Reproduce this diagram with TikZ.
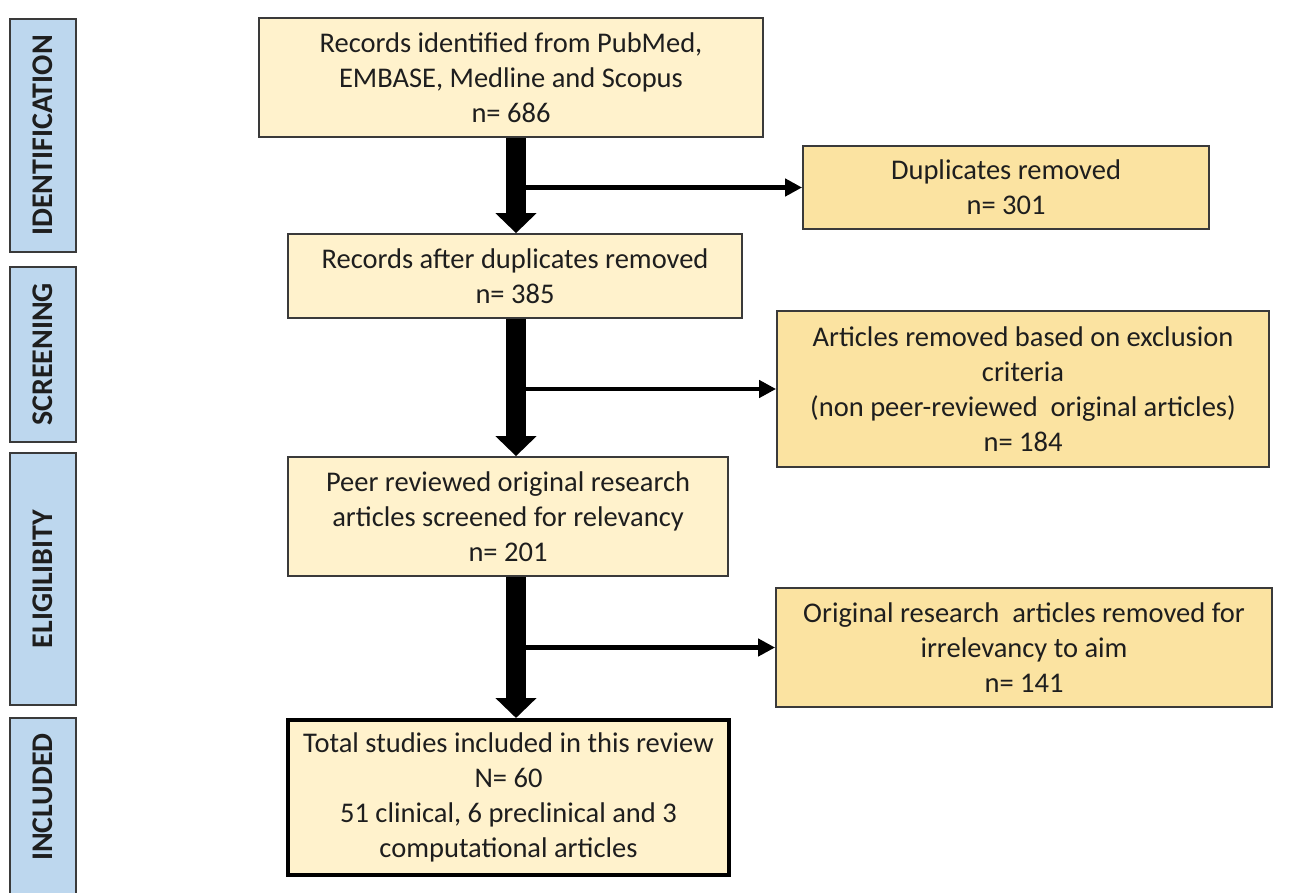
\documentclass[tikz,border=0pt]{standalone}
\usepackage{fontspec}
\setmainfont{Carlito}
\usetikzlibrary{arrows.meta}
\definecolor{barblue}{HTML}{BDD7EE}
\definecolor{lightbox}{HTML}{FFF2CC}
\definecolor{darkbox}{HTML}{FBE3A1}
\definecolor{edge}{HTML}{3A3A3A}
\definecolor{ink}{HTML}{1E1E1E}
\begin{document}
\begin{tikzpicture}[x=1pt,y=-1pt,
  box/.style={draw=edge, line width=1.8pt, align=center, inner sep=0pt, text=ink,
    font=\fontsize{28.5}{35}\selectfont},
  mainbox/.style={box, fill=lightbox},
  sidebox/.style={box, fill=darkbox},
  finalbox/.style={box, fill=lightbox, draw=black, line width=4pt},
  bar/.style={draw=edge, line width=1.5pt, fill=barblue, inner sep=0pt},
  bartext/.style={rotate=90, inner sep=0pt, text=ink, font=\bfseries\fontsize{30}{36}\selectfont},
  bigarrow/.style={line width=20pt, -{Triangle[length=20pt,width=40pt]}},
  thinarrow/.style={line width=4.5pt, -{Triangle[length=17pt,width=17pt]}}]
\useasboundingbox[fill=white] (0,0) rectangle (1290,893);
\begin{scope}
\clip (0,0) rectangle (1290,893);
% phase bars
\node[bar, minimum width=66pt, minimum height=233pt] (b1) at (43,135.5) {};
\node[bar, minimum width=66pt, minimum height=175pt] (b2) at (43,354.5) {};
\node[bar, minimum width=66pt, minimum height=252pt] (b3) at (43,579) {};
\node[bar, minimum width=66pt, minimum height=187pt] (b4) at (43,811.5) {};
\end{scope}
\node[bartext] (t1) at (b1.center) {IDENTIFICATION};
\node[bartext] (t2) at (b2.center) {SCREENING};
\node[bartext] (t3) at (b3.center) {ELIGILIBITY};
\node[bartext] (t4) at (43,797) {INCLUDED};
% boxes
\node[mainbox, minimum width=504pt, minimum height=119pt] (box1) at (511,77.5)
  {Records identified from PubMed,\\EMBASE, Medline and Scopus\\n= 686};
\node[sidebox, minimum width=406pt, minimum height=83pt] (box2) at (1006,187.5)
  {Duplicates removed\\n= 301};
\node[mainbox, minimum width=454pt, minimum height=84pt] (box3) at (515,276)
  {Records after duplicates removed\\n= 385};
\node[sidebox, minimum width=492pt, minimum height=156pt] (box4) at (1023,389)
  {Articles removed based on exclusion\\criteria\\(non peer-reviewed\ \ original articles)\\n= 184};
\node[mainbox, minimum width=440pt, minimum height=119pt] (box5) at (508,516.5)
  {Peer reviewed original research\\articles screened for relevancy\\n= 201};
\node[sidebox, minimum width=496pt, minimum height=119pt] (box6) at (1024,647.5)
  {Original research\ \ articles removed for\\irrelevancy to aim\\n= 141};
\node[finalbox, minimum width=441pt, minimum height=155pt] (box7) at (508.5,797.5)
  {Total studies included in this review\\N= 60\\51 clinical, 6 preclinical and 3\\computational articles};
% connectors
\coordinate (spine) at (516,0);
\draw[bigarrow] (box1.south -| spine) -- (box3.north -| spine);
\draw[bigarrow] (box3.south -| spine) -- (box5.north -| spine);
\draw[bigarrow] (box5.south -| spine) -- (box7.north -| spine);
\draw[thinarrow] (box2.west -| spine) -- (box2.west);
\draw[thinarrow] (box4.west -| spine) -- (box4.west);
\draw[thinarrow] (box6.west -| spine) -- (box6.west);
\end{tikzpicture}
\end{document}
